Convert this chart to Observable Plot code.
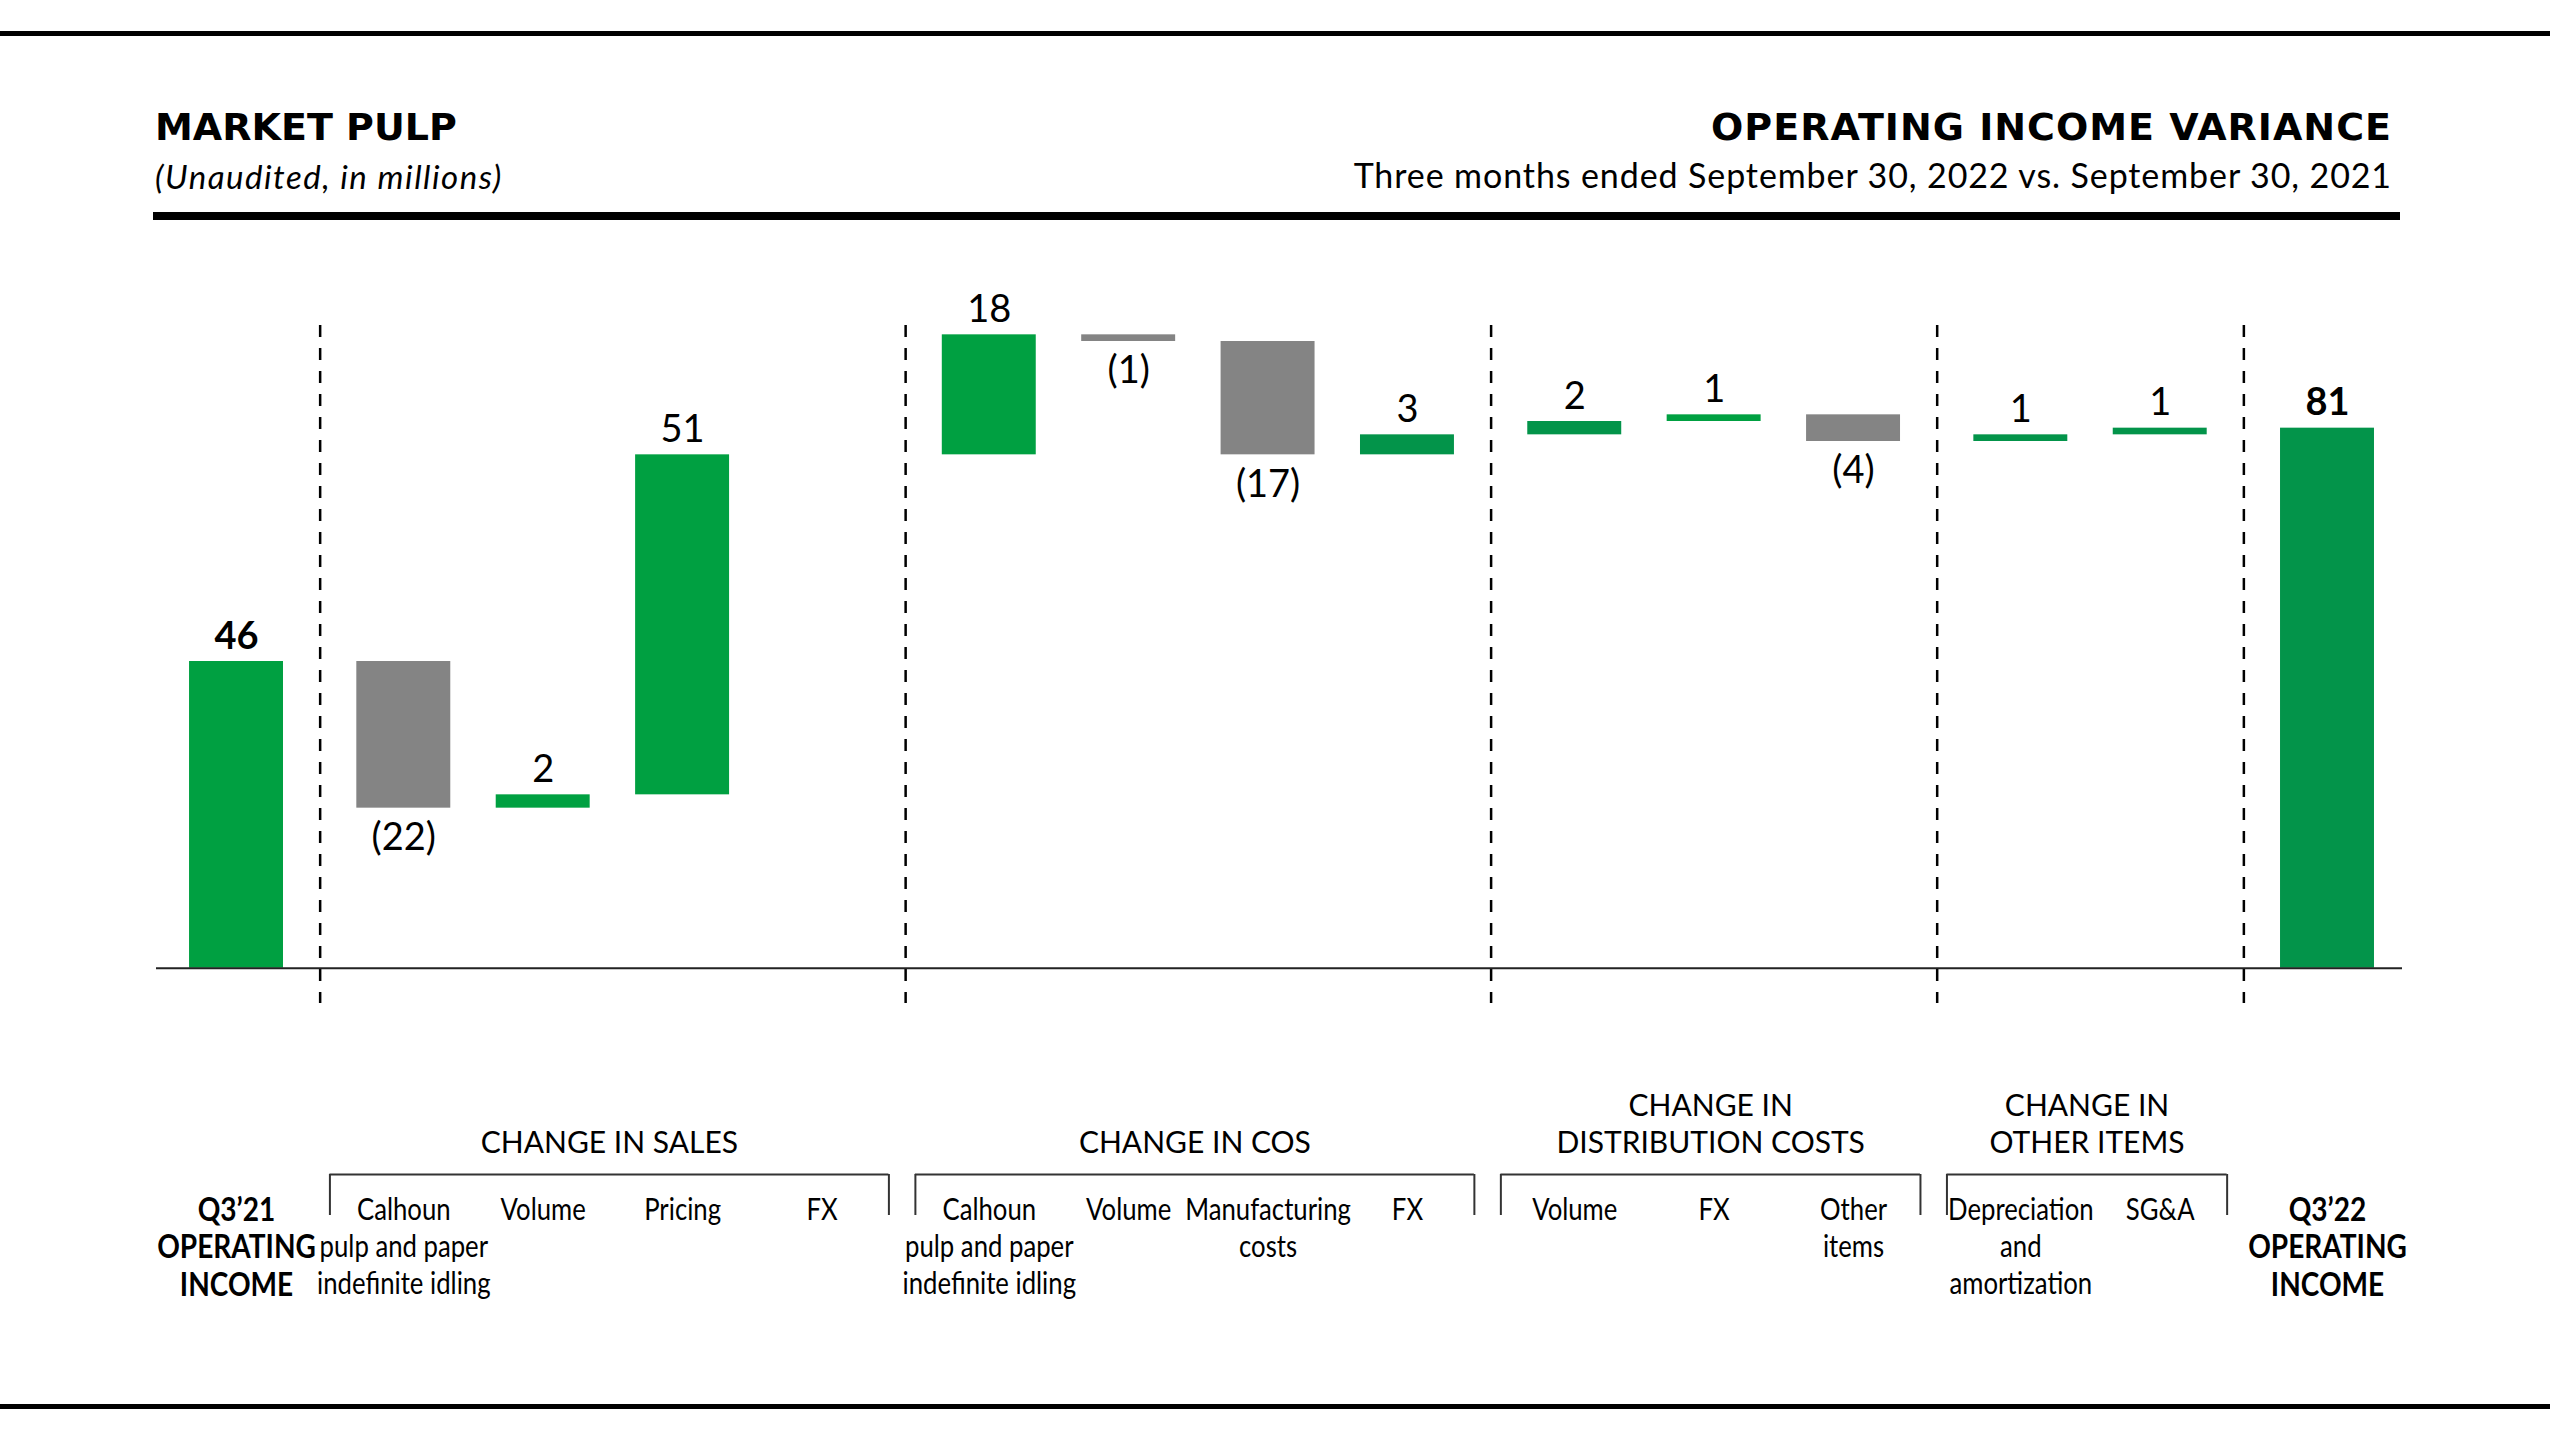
<!DOCTYPE html>
<html>
<head>
<meta charset="utf-8">
<script src="https://cdn.jsdelivr.net/npm/d3@7"></script>
<script src="https://cdn.jsdelivr.net/npm/@observablehq/plot@0.6"></script>
<style>
  html, body { margin: 0; padding: 0; background: #fff; }
  #page { position: relative; width: 2550px; height: 1434px; overflow: hidden; background: #fff; }
  .rule { position: absolute; background: #000; }
  .t { position: absolute; white-space: nowrap; line-height: 1; color: #000; }
  #chart { position: absolute; left: 0; top: 240px; }
</style>
</head>
<body>
<div id="page">
  <div class="rule" style="left:0;top:31px;width:2550px;height:5px"></div>
  <div class="t" style="left:155px;top:108px;font-family:'DejaVu Sans';font-weight:bold;font-size:38px">MARKET PULP</div>
  <div class="t" style="left:155px;top:160px;font-family:Lato;font-style:italic;font-size:33px;letter-spacing:1.5px">(Unaudited, in millions)</div>
  <div class="t" style="right:158px;top:108px;font-family:'DejaVu Sans';font-weight:bold;font-size:38px;letter-spacing:1px">OPERATING INCOME VARIANCE</div>
  <div class="t" style="right:158px;top:158px;font-family:Lato;font-size:34px;letter-spacing:0.9px">Three months ended September 30, 2022 vs. September 30, 2021</div>
  <div class="rule" style="left:153px;top:212px;width:2247px;height:8px"></div>
  <div id="chart"></div>
  <div class="rule" style="left:0;top:1404px;width:2550px;height:5px"></div>
</div>
<script>
// ---- data ----
const categories = [
  "Q3’21\nOPERATING\nINCOME",
  "Calhoun\npulp and paper\nindefinite idling", "Volume", "Pricing", "FX",
  "Calhoun\npulp and paper\nindefinite idling", "Volume", "Manufacturing\ncosts", "FX",
  "Volume", "FX", "Other\nitems",
  "Depreciation\nand\namortization", "SG&A",
  "Q3’22\nOPERATING\nINCOME"
];
const values = [46, -22, 2, 51, 0, 18, -1, -17, 3, 2, 1, -4, 1, 1, 81];
const barTypes = ["total", "change", "change", "change", "change", "change", "change", "change", "change", "change", "change", "change", "change", "change", "total"];
const groupNames = ["", "CHANGE IN SALES", "CHANGE IN COS", "CHANGE IN\nDISTRIBUTION COSTS", "CHANGE IN\nOTHER ITEMS", ""];
const groupOf = [0, 1, 1, 1, 1, 2, 2, 2, 2, 3, 3, 3, 4, 4, 5];

// ---- layout constants (not data) ----
const groupGap = 0.2;      // extra spacing between groups, in category steps
const halfBar = 0.337;     // half bar width, in category steps

// ---- derived tables ----
let running = 0;
const rows = categories.map((label, i) => {
  const v = values[i];
  const total = barTypes[i] === "total";
  const y1 = total ? 0 : running;
  const y2 = total ? v : running + v;
  running = y2;
  return {i, u: i + groupGap * groupOf[i], label, value: v, total, y1, y2,
          top: Math.max(y1, y2), bottom: Math.min(y1, y2),
          text: v < 0 ? `(${-v})` : `${v}`};
});
const groups = groupNames.map((name, g) => {
  const us = rows.filter(r => groupOf[r.i] === g).map(r => r.u);
  return {name, first: d3.min(us), last: d3.max(us)};
}).filter(g => g.name !== "");
groups.forEach(g => { g.x1 = g.first - 0.53; g.x2 = g.last + 0.48; g.mid = (g.x1 + g.x2) / 2; });
const bracketEnds = groups.flatMap(g => [g.x1, g.x2]);
const boundaries = rows.filter(r => r.i < rows.length - 1 && groupOf[r.i] !== groupOf[r.i + 1])
  .map(r => (r.u + rows[r.i + 1].u) / 2);

const green = "#00a041", greenDark = "#03944a", gray = "#848484";
const darker = new Set([8, 9, 12, 13, 14]);
const fillOf = d => d.value < 0 ? gray : (darker.has(d.i) ? greenDark : green);

const font = "Lato, 'Open Sans', sans-serif";
const yDomain = [-5.3, 96.4];

const bars = rows.filter(d => d.value !== 0);

const chart = Plot.plot({
  width: 2550,
  height: 1100,
  marginTop: 85,
  marginBottom: 337,
  marginLeft: 156,
  marginRight: 148,
  x: {domain: [-0.574, 15.538], axis: null},
  y: {domain: yDomain, axis: null},
  style: {background: "transparent", overflow: "visible", color: "#000"},
  marks: [
    // dashed group separators
    Plot.ruleX(boundaries, {x: d => d, stroke: "#000", strokeWidth: 2.5, strokeDasharray: "12,11"}),
    // waterfall bars
    Plot.rectY(bars, {x1: d => d.u - halfBar, x2: d => d.u + halfBar, y1: "y1", y2: "y2", fill: fillOf}),
    // baseline
    Plot.ruleY([0], {stroke: "#222", strokeWidth: 2}),
    // value labels: positive changes above, negatives below, totals bold
    Plot.text(bars.filter(d => !d.total && d.value > 0), {x: "u", y: "top", text: "text", lineAnchor: "bottom", dy: -13, fontSize: 38, fontFamily: font, fill: "#000"}),
    Plot.text(bars.filter(d => !d.total && d.value < 0), {x: "u", y: "bottom", text: "text", lineAnchor: "top", dy: 15, fontSize: 38, fontFamily: font, fill: "#000"}),
    Plot.text(bars.filter(d => d.total), {x: "u", y: "top", text: "text", lineAnchor: "bottom", dy: -13, fontSize: 38, fontWeight: "bold", fontFamily: font, fill: "#000"}),
    // group headers
    Plot.text(groups, {x: "mid", text: "name", frameAnchor: "bottom", lineAnchor: "bottom", dy: 149, fontSize: 30, lineHeight: 1.233, fontFamily: font, fill: "#000"}),
    // brackets
    Plot.ruleY(groups, {x1: "x1", x2: "x2", y: () => yDomain[0], dy: 171, stroke: "#333", strokeWidth: 2}),
    Plot.ruleX(bracketEnds, {x: d => d, insetTop: 849, insetBottom: -212, stroke: "#333", strokeWidth: 2}),
    // category labels
    Plot.text(rows.filter(d => !d.total), {x: "u", text: "label", frameAnchor: "bottom", lineAnchor: "top", dy: 190, fontSize: 31, lineHeight: 1.2, fontFamily: font, fill: "#000", ariaDescription: "category labels"}),
    Plot.text(rows.filter(d => d.total), {x: "u", text: "label", frameAnchor: "bottom", lineAnchor: "top", dy: 191, fontSize: 33, lineHeight: 1.13, fontWeight: "bold", fontFamily: font, fill: "#000", ariaDescription: "total labels"})
  ]
});
// condense the category label lettering (the reference uses a narrow face)
function condense(desc, k) {
  d3.select(chart).selectAll(`g[aria-description="${desc}"] text`).each(function() {
    const t = this.getAttribute("transform");
    if (t) {
      this.setAttribute("transform", t + ` scale(${k},1)`);
    } else {
      const x = +this.getAttribute("x") || 0, y = +this.getAttribute("y") || 0;
      this.removeAttribute("x"); this.removeAttribute("y");
      this.setAttribute("transform", `translate(${x},${y}) scale(${k},1)`);
    }
  });
}
condense("category labels", 0.83);
condense("total labels", 0.85);
document.getElementById("chart").appendChild(chart);
</script>
</body>
</html>
